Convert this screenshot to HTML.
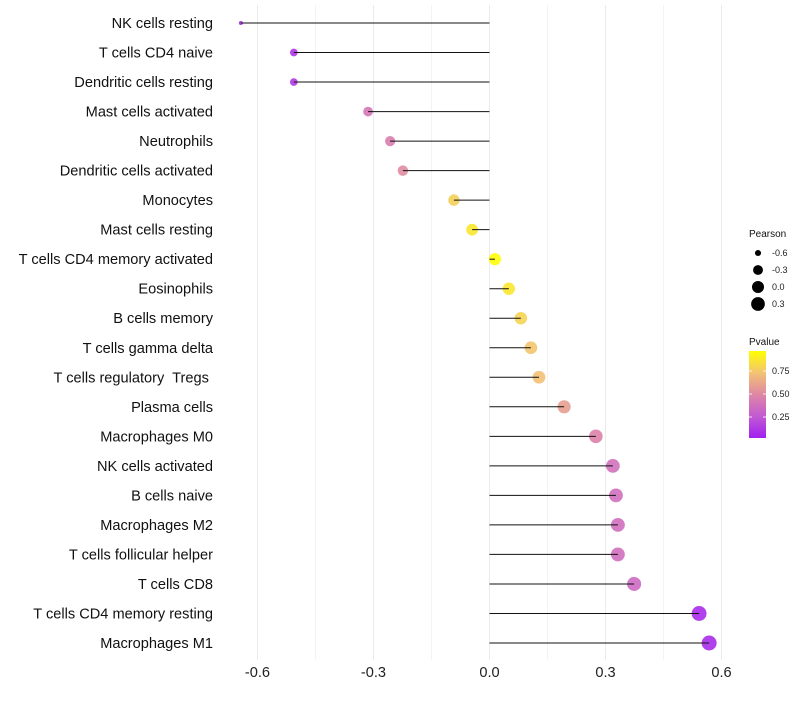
<!DOCTYPE html>
<html><head><meta charset="utf-8"><style>
body{margin:0;background:#fff;}
svg text{font-family:"Liberation Sans",Arial,sans-serif;}
</style></head><body>
<svg id="chart" width="800" height="700"></svg>
<script>
const categories=["NK cells resting","T cells CD4 naive","Dendritic cells resting","Mast cells activated","Neutrophils","Dendritic cells activated","Monocytes","Mast cells resting","T cells CD4 memory activated","Eosinophils","B cells memory","T cells gamma delta","T cells regulatory  Tregs ","Plasma cells","Macrophages M0","NK cells activated","B cells naive","Macrophages M2","T cells follicular helper","T cells CD8","T cells CD4 memory resting","Macrophages M1"];
const pearson=[-0.643,-0.506,-0.506,-0.314,-0.257,-0.224,-0.092,-0.045,0.014,0.050,0.081,0.107,0.128,0.193,0.275,0.319,0.327,0.332,0.332,0.374,0.542,0.568];
const pvalue=[0.05,0.1,0.1,0.4,0.45,0.52,0.8,0.9,0.99,0.9,0.82,0.76,0.74,0.6,0.47,0.38,0.37,0.36,0.36,0.34,0.05,0.05];
const xTicks=[-0.6,-0.3,0.0,0.3,0.6];
const xTickLabels=["-0.6","-0.3","0.0","0.3","0.6"];
const sizeLegend=[-0.6,-0.3,0.0,0.3];
const sizeLegendLabels=["-0.6","-0.3","0.0","0.3"];
const pTicks=[0.75,0.5,0.25];
const pTickLabels=["0.75","0.50","0.25"];

const NS="http://www.w3.org/2000/svg";
const svg=document.getElementById('chart');
const x0=489.5, kx=386.7;
const xs=v=>x0+v*kx;
const ys=i=>23+i*(620/(categories.length-1));
const minP=Math.min(...pearson), maxP=Math.max(...pearson);
const rs=v=>2+5.5*Math.sqrt(Math.max(0,(v-minP)/(maxP-minP)));
const stops=[[0,[160,32,240]],[0.25,[195,90,210]],[0.5,[222,135,165]],[0.75,[243,195,115]],[1,[255,255,0]]];
function col(p){for(let i=1;i<stops.length;i++){if(p<=stops[i][0]){const a=stops[i-1],b=stops[i];const t=(p-a[0])/(b[0]-a[0]);return 'rgb('+a[1].map((c,j)=>Math.round(c+(b[1][j]-c)*t)).join(',')+')';}}return 'rgb(255,255,0)';}
function mk(tag,attrs,txt){const e=document.createElementNS(NS,tag);for(const k in attrs)e.setAttribute(k,attrs[k]);if(txt!==undefined)e.textContent=txt;svg.appendChild(e);return e;}

for(let v=-0.6;v<=0.61;v+=0.15){
  const g=mk('line',{x1:xs(v),x2:xs(v),y1:5,y2:660,stroke:'#ebebeb','stroke-width':Math.abs((v/0.3)-Math.round(v/0.3))<0.01?1:0.6});
  
  
}
xTicks.forEach((v,i)=>{
  const t=mk('text',{x:xs(v),y:677,'text-anchor':'middle','font-size':14.6,fill:'#222'},xTickLabels[i]);
  
  
});
categories.forEach((c,i)=>{
  const y=ys(i);
  const t=mk('text',{x:213,y:y+5,'text-anchor':'end','font-size':14.6,fill:'#111'},c);
  t.setAttribute('xml:space','preserve');
  t.style.whiteSpace='pre';
  
  
  const d=mk('circle',{cx:xs(pearson[i]),cy:y,r:rs(pearson[i]),fill:col(pvalue[i]),'fill-opacity':0.9});
  
  
  const l=mk('line',{x1:xs(pearson[i]),x2:xs(0),y1:y,y2:y,stroke:'#111','stroke-width':1});
  
  
});
let t=mk('text',{x:749,y:237,'font-size':10,fill:'#111'},'Pearson');


sizeLegend.forEach((v,i)=>{
  const y=253+i*17;
  const c=mk('circle',{cx:758,cy:y,r:rs(v),fill:'#000'});
  
  
  const tx=mk('text',{x:772,y:y+3,'font-size':9,fill:'#222'},sizeLegendLabels[i]);
  
  
});
const defs=mk('defs',{});
const grad=document.createElementNS(NS,'linearGradient');
grad.setAttribute('id','pg');grad.setAttribute('x1','0');grad.setAttribute('y1','1');grad.setAttribute('x2','0');grad.setAttribute('y2','0');
stops.forEach(s=>{const st=document.createElementNS(NS,'stop');st.setAttribute('offset',s[0]);st.setAttribute('stop-color',col(s[0]));grad.appendChild(st);});
defs.appendChild(grad);
t=mk('text',{x:749,y:345,'font-size':10,fill:'#111'},'Pvalue');


const bar=mk('rect',{x:749,y:351,width:17,height:87,fill:'url(#pg)'});


pTicks.forEach((p,i)=>{
  const y=440-p*92;
  mk('line',{x1:749,x2:752,y1:y,y2:y,stroke:'#fff','stroke-width':0.8});
  mk('line',{x1:763,x2:766,y1:y,y2:y,stroke:'#fff','stroke-width':0.8});
  const tx=mk('text',{x:772,y:y+3,'font-size':9,fill:'#222'},pTickLabels[i]);
  
  
});
</script>
</body></html>
